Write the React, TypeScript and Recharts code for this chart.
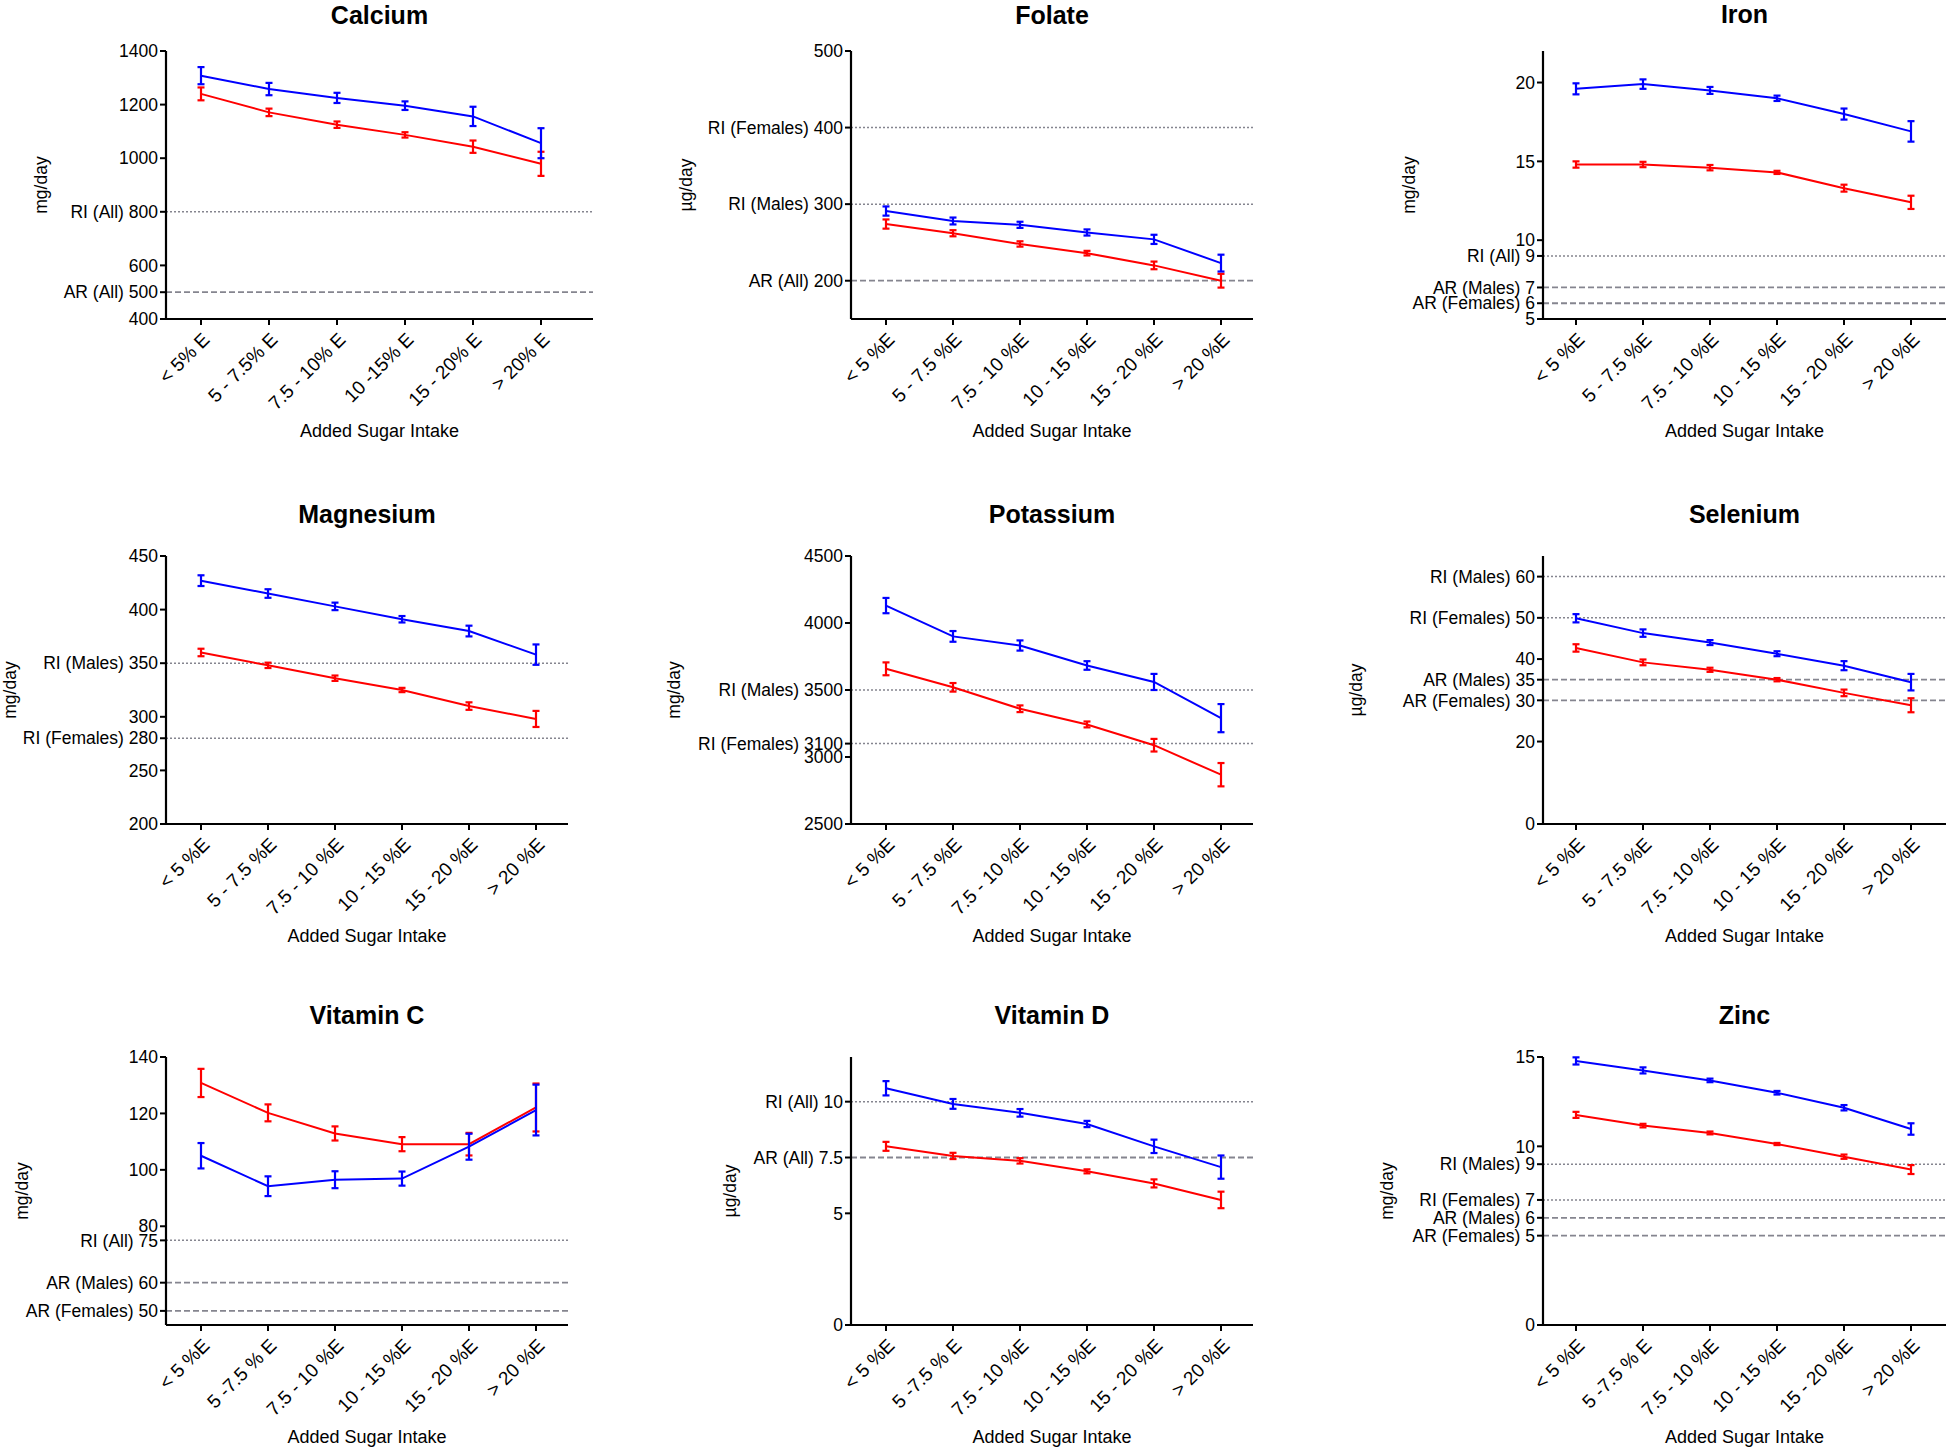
import { LineChart, Line, XAxis, YAxis, ReferenceLine, ErrorBar } from 'recharts';

// x categories (labels differ slightly between panels in the source figure)
const calciumCats = ['< 5% E', '5 - 7.5% E', '7.5 - 10% E', '10 -15% E', '15 - 20% E', '> 20% E'];
const stdCats = ['< 5 %E', '5 - 7.5 %E', '7.5 - 10 %E', '10 - 15 %E', '15 - 20 %E', '> 20 %E'];
const altCats = ['< 5 %E', '5 -7.5 % E', '7.5 - 10 %E', '10 - 15 %E', '15 - 20 %E', '> 20 %E'];

// blue = males, red = females
const calciumMale = [1308, 1258, 1225, 1196, 1156, 1056];
const calciumMaleErr = [32, 23, 19, 16, 36, 56];
const calciumFemale = [1240, 1171, 1125, 1087, 1043, 979];
const calciumFemaleErr = [24, 14, 12, 10, 23, 45];
const calciumTicks = [400, 500, 600, 800, 1000, 1200, 1400];
const calciumTickNames = ['400', 'AR (All) 500', '600', 'RI (All) 800', '1000', '1200', '1400'];

const folateMale = [291, 278, 273, 263, 254, 223];
const folateMaleErr = [6, 4.5, 4, 4, 6, 11];
const folateFemale = [274, 262, 248, 236, 220, 200];
const folateFemaleErr = [6, 4, 3.5, 3, 5, 9];
const folateTicks = [200, 300, 400, 500];
const folateTickNames = ['AR (All) 200', 'RI (Males) 300', 'RI (Females) 400', '500'];

const ironMale = [19.6, 19.9, 19.5, 19.0, 18.0, 16.9];
const ironMaleErr = [0.35, 0.3, 0.22, 0.17, 0.35, 0.65];
const ironFemale = [14.8, 14.8, 14.6, 14.3, 13.3, 12.4];
const ironFemaleErr = [0.2, 0.17, 0.17, 0.1, 0.22, 0.42];
const ironTicks = [5, 6, 7, 9, 10, 15, 20];
const ironTickNames = ['5', 'AR (Females) 6', 'AR (Males) 7', 'RI (All) 9', '10', '15', '20'];

const magnesiumMale = [427, 415, 403, 391, 380, 358];
const magnesiumMaleErr = [5, 4, 3.5, 3, 5, 9.5];
const magnesiumFemale = [360, 348, 336, 325, 310, 298];
const magnesiumFemaleErr = [3.5, 2.5, 2.5, 2, 3.5, 7.5];
const magnesiumTicks = [200, 250, 280, 300, 350, 400, 450];
const magnesiumTickNames = ['200', '250', 'RI (Females) 280', '300', 'RI (Males) 350', '400', '450'];

const potassiumMale = [4130, 3900, 3832, 3683, 3560, 3290];
const potassiumMaleErr = [57, 40, 38, 32, 60, 105];
const potassiumFemale = [3658, 3520, 3360, 3243, 3088, 2868];
const potassiumFemaleErr = [48, 32, 25, 22, 47, 87];
const potassiumTicks = [2500, 3000, 3100, 3500, 4000, 4500];
const potassiumTickNames = ['2500', '3000', 'RI (Females) 3100', 'RI (Males) 3500', '4000', '4500'];

const seleniumMale = [49.9, 46.3, 44.0, 41.3, 38.4, 34.4];
const seleniumMaleErr = [1.0, 0.9, 0.6, 0.6, 1.1, 2.0];
const seleniumFemale = [42.7, 39.2, 37.4, 35.0, 31.8, 28.8];
const seleniumFemaleErr = [0.9, 0.7, 0.5, 0.4, 0.8, 1.7];
const seleniumTicks = [0, 20, 30, 35, 40, 50, 60];
const seleniumTickNames = ['0', '20', 'AR (Females) 30', 'AR (Males) 35', '40', 'RI (Females) 50', 'RI (Males) 60'];

const vitCMale = [105, 94.2, 96.5, 96.9, 108.2, 121.2];
const vitCMaleErr = [4.5, 3.5, 3, 2.5, 4.6, 9];
const vitCFemale = [130.8, 120.2, 112.9, 109.1, 109.1, 122.1];
const vitCFemaleErr = [5, 3, 2.5, 2.5, 4, 8.5];
const vitCTicks = [50, 60, 75, 80, 100, 120, 140];
const vitCTickNames = ['AR (Females) 50', 'AR (Males) 60', 'RI (All) 75', '80', '100', '120', '140'];

const vitDMale = [10.6, 9.9, 9.5, 9.0, 8.0, 7.07];
const vitDMaleErr = [0.32, 0.22, 0.17, 0.14, 0.3, 0.52];
const vitDFemale = [8.0, 7.57, 7.35, 6.88, 6.34, 5.6];
const vitDFemaleErr = [0.2, 0.14, 0.12, 0.09, 0.18, 0.37];
const vitDTicks = [0, 5, 7.5, 10];
const vitDTickNames = ['0', '5', 'AR (All) 7.5', 'RI (All) 10'];

const zincMale = [14.78, 14.25, 13.69, 13.0, 12.16, 10.97];
const zincMaleErr = [0.2, 0.17, 0.1, 0.1, 0.15, 0.32];
const zincFemale = [11.76, 11.16, 10.75, 10.13, 9.42, 8.7];
const zincFemaleErr = [0.17, 0.1, 0.08, 0.06, 0.12, 0.25];
const zincTicks = [0, 5, 6, 7, 9, 10, 15];
const zincTickNames = ['0', 'AR (Females) 5', 'AR (Males) 6', 'RI (Females) 7', 'RI (Males) 9', '10', '15'];

const Y_W = 200;
const PLOT_H = 268;
const X_H = 125;
const TOP_M = 10;
const FONT = '"Liberation Sans", Arial, Helvetica, sans-serif';

function SlantTick({ x, y, payload }: any) {
  return (
    <g transform={`translate(${x + 5},${y + 9})`}>
      <text textAnchor="end" transform="rotate(-45)" dy="0.35em" fontSize={19} fill="#000">
        {payload.value}
      </text>
    </g>
  );
}

interface PanelProps {
  title: string;
  unit: string;
  cats: string[];
  male: number[];
  maleErr: number[];
  female: number[];
  femaleErr: number[];
  domain: [number, number];
  ticks: number[];
  tickNames: string[];
  axisX: number;
  plotTop: number;
  plotW: number;
  padL: number;
  padR: number;
  labelGap: number;
  titleY: number;
}

function Panel(p: PanelProps) {
  const data = p.cats.map((c, i) => ({
    cat: c,
    male: p.male[i],
    maleErr: p.maleErr[i],
    female: p.female[i],
    femaleErr: p.femaleErr[i],
  }));
  // RI = dotted line, AR = dashed line
  const refs = p.ticks
    .map((t, i) => ({ value: t, name: p.tickNames[i] }))
    .filter((r) => r.name.startsWith('RI') || r.name.startsWith('AR'));

  return (
    <>
      <div
        style={{
          position: 'absolute',
          left: p.axisX,
          width: p.plotW,
          top: p.titleY - 15,
          lineHeight: '30px',
          textAlign: 'center',
          fontWeight: 'bold',
          fontSize: 25,
        }}
      >
        {p.title}
      </div>
      <div style={{ position: 'absolute', left: p.axisX - Y_W, top: p.plotTop - TOP_M }}>
        <LineChart
          width={Y_W + p.plotW + 2}
          height={TOP_M + PLOT_H + X_H}
          data={data}
          margin={{ top: TOP_M, right: 2, bottom: 0, left: 0 }}
        >
          <XAxis
            dataKey="cat"
            scale="point"
            padding={{ left: p.padL, right: p.padR }}
            interval={0}
            height={X_H}
            tick={<SlantTick />}
            tickSize={6}
            axisLine={{ stroke: '#000', strokeWidth: 2.2 }}
            tickLine={{ stroke: '#000', strokeWidth: 2 }}
            label={{ value: 'Added Sugar Intake', position: 'insideBottom', offset: 7, fill: '#000', fontSize: 18 }}
          />
          <YAxis
            type="number"
            domain={p.domain}
            allowDataOverflow
            ticks={p.ticks}
            interval={0}
            width={Y_W}
            tickSize={6}
            tickMargin={2}
            tickFormatter={(v: number) => p.tickNames[p.ticks.indexOf(v)] ?? String(v)}
            tick={{ fill: '#000', fontSize: 17.5 }}
            axisLine={{ stroke: '#000', strokeWidth: 2.2 }}
            tickLine={{ stroke: '#000', strokeWidth: 2 }}
            label={{
              value: p.unit,
              angle: -90,
              position: 'insideLeft',
              offset: Y_W - p.labelGap,
              style: { textAnchor: 'middle', fill: '#000', fontSize: 17.5 },
            }}
          />
          {refs.map((r) => (
            <ReferenceLine
              key={r.value}
              y={r.value}
              stroke="#85858f"
              strokeWidth={r.name.startsWith('RI') ? 1.5 : 1.8}
              strokeDasharray={r.name.startsWith('RI') ? '2 2' : '6 3'}
            />
          ))}
          <Line dataKey="female" stroke="#ff0000" strokeWidth={2} dot={false} isAnimationActive={false}>
            <ErrorBar dataKey="femaleErr" direction="y" width={3.5} stroke="#ff0000" strokeWidth={2.2} isAnimationActive={false} />
          </Line>
          <Line dataKey="male" stroke="#0000ff" strokeWidth={2} dot={false} isAnimationActive={false}>
            <ErrorBar dataKey="maleErr" direction="y" width={3.5} stroke="#0000ff" strokeWidth={2.2} isAnimationActive={false} />
          </Line>
        </LineChart>
      </div>
    </>
  );
}

export default function App() {
  return (
    <div
      style={{
        position: 'absolute',
        left: 0,
        top: 0,
        width: 1946,
        height: 1448,
        overflow: 'hidden',
        background: '#fff',
        fontFamily: FONT,
        color: '#000',
      }}
    >
      <Panel title="Calcium" unit="mg/day" cats={calciumCats} male={calciumMale} maleErr={calciumMaleErr}
        female={calciumFemale} femaleErr={calciumFemaleErr} domain={[400, 1400]} ticks={calciumTicks}
        tickNames={calciumTickNames} axisX={166} plotTop={51} plotW={427} padL={35} padR={52} labelGap={125} titleY={15} />
      <Panel title="Folate" unit="µg/day" cats={stdCats} male={folateMale} maleErr={folateMaleErr}
        female={folateFemale} femaleErr={folateFemaleErr} domain={[150, 500]} ticks={folateTicks}
        tickNames={folateTickNames} axisX={851} plotTop={51} plotW={402} padL={35} padR={32} labelGap={165} titleY={15} />
      <Panel title="Iron" unit="mg/day" cats={stdCats} male={ironMale} maleErr={ironMaleErr}
        female={ironFemale} femaleErr={ironFemaleErr} domain={[5, 22]} ticks={ironTicks}
        tickNames={ironTickNames} axisX={1543} plotTop={51} plotW={403} padL={33} padR={35} labelGap={134} titleY={14} />

      <Panel title="Magnesium" unit="mg/day" cats={stdCats} male={magnesiumMale} maleErr={magnesiumMaleErr}
        female={magnesiumFemale} femaleErr={magnesiumFemaleErr} domain={[200, 450]} ticks={magnesiumTicks}
        tickNames={magnesiumTickNames} axisX={166} plotTop={556} plotW={402} padL={35} padR={32} labelGap={156} titleY={514} />
      <Panel title="Potassium" unit="mg/day" cats={stdCats} male={potassiumMale} maleErr={potassiumMaleErr}
        female={potassiumFemale} femaleErr={potassiumFemaleErr} domain={[2500, 4500]} ticks={potassiumTicks}
        tickNames={potassiumTickNames} axisX={851} plotTop={556} plotW={402} padL={35} padR={32} labelGap={177} titleY={514} />
      <Panel title="Selenium" unit="µg/day" cats={stdCats} male={seleniumMale} maleErr={seleniumMaleErr}
        female={seleniumFemale} femaleErr={seleniumFemaleErr} domain={[0, 65]} ticks={seleniumTicks}
        tickNames={seleniumTickNames} axisX={1543} plotTop={556} plotW={403} padL={33} padR={35} labelGap={187} titleY={514} />

      <Panel title="Vitamin C" unit="mg/day" cats={altCats} male={vitCMale} maleErr={vitCMaleErr}
        female={vitCFemale} femaleErr={vitCFemaleErr} domain={[45, 140]} ticks={vitCTicks}
        tickNames={vitCTickNames} axisX={166} plotTop={1057} plotW={402} padL={35} padR={32} labelGap={144} titleY={1015} />
      <Panel title="Vitamin D" unit="µg/day" cats={altCats} male={vitDMale} maleErr={vitDMaleErr}
        female={vitDFemale} femaleErr={vitDFemaleErr} domain={[0, 12]} ticks={vitDTicks}
        tickNames={vitDTickNames} axisX={851} plotTop={1057} plotW={402} padL={35} padR={32} labelGap={121} titleY={1015} />
      <Panel title="Zinc" unit="mg/day" cats={altCats} male={zincMale} maleErr={zincMaleErr}
        female={zincFemale} femaleErr={zincFemaleErr} domain={[0, 15]} ticks={zincTicks}
        tickNames={zincTickNames} axisX={1543} plotTop={1057} plotW={403} padL={33} padR={35} labelGap={156} titleY={1015} />
    </div>
  );
}
